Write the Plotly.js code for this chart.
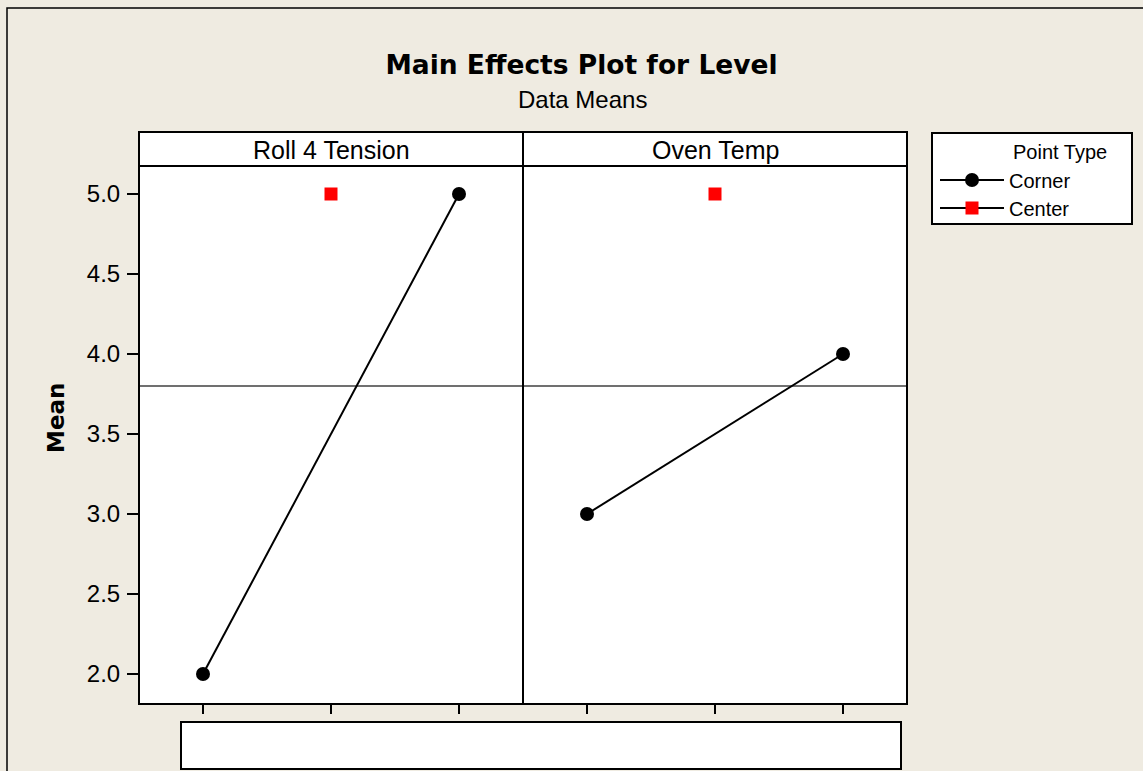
<!DOCTYPE html>
<html>
<head>
<meta charset="utf-8">
<script src="https://cdn.plot.ly/plotly-3.0.1.min.js"></script>
<style>
  html, body { margin: 0; padding: 0; background: #EFEBE1; }
  #chart { width: 1143px; height: 771px; }
</style>
</head>
<body>
<div id="chart"></div>
<script>
// ---- data ----
const factors = ['Roll 4 Tension', 'Oven Temp'];
const levels = [1, 2, 3];           // low, center, high (unlabelled)
const cornerLevels = [1, 3];
const centerLevels = [2];
const rollCorner = [2.0, 5.0];
const ovenCorner = [3.0, 4.0];
const rollCenter = [5.0];
const ovenCenter = [5.0];
const grandMean = 3.8;
const yTicks = [2.0, 2.5, 3.0, 3.5, 4.0, 4.5, 5.0];
const seriesNames = ['Corner', 'Center'];
const legendTitle = 'Point Type';
const titleText = 'Main Effects Plot for Level';
const subtitleText = 'Data Means';
const yTitle = 'Mean';

// ---- style ----
const REG = 'Liberation Sans, Arial, sans-serif';
const BOLD = 'DejaVu Sans, Verdana, sans-serif';
const BG = '#EFEBE1';

const cornerStyle = {
  mode: 'lines+markers',
  line: { color: '#000000', width: 2 },
  marker: { symbol: 'circle', size: 14, color: '#000000' }
};
const centerStyle = {
  mode: 'lines+markers',
  line: { color: '#000000', width: 2 },
  marker: { symbol: 'square', size: 13, color: '#FF0000' }
};

const traces = [
  Object.assign({ x: cornerLevels, y: rollCorner, xaxis: 'x', yaxis: 'y',
    name: seriesNames[0], legend: 'legend', showlegend: true, hoverinfo: 'x+y' }, cornerStyle),
  Object.assign({ x: cornerLevels, y: ovenCorner, xaxis: 'x2', yaxis: 'y',
    name: seriesNames[0], showlegend: false, hoverinfo: 'x+y' }, cornerStyle),
  Object.assign({ x: centerLevels, y: rollCenter, xaxis: 'x', yaxis: 'y',
    name: seriesNames[1], legend: 'legend2', showlegend: true, hoverinfo: 'x+y' }, centerStyle),
  Object.assign({ x: centerLevels, y: ovenCenter, xaxis: 'x2', yaxis: 'y',
    name: seriesNames[1], showlegend: false, hoverinfo: 'x+y' }, centerStyle)
];

// plot area: left 139, right 907, top 166, bottom 704 (px)
const W = 1143, H = 771;
const L = 139, R = 907, T = 166, B = 704;
const pw = R - L, ph = B - T;
const px = v => (v - L) / pw;       // pixel -> paper x
const py = v => (B - v) / ph;       // pixel -> paper y

const xAxisCommon = {
  range: [0.5, 3.5],
  tickvals: levels,
  showticklabels: false,
  ticks: 'outside', ticklen: 9, tickwidth: 2, tickcolor: '#000000',
  showgrid: false, zeroline: false, showline: false, fixedrange: true
};

const shapes = [
  // outer frame
  { type: 'rect', xref: 'paper', yref: 'paper', x0: px(7), x1: px(1300), y0: py(8), y1: py(900),
    line: { color: '#000000', width: 1.5 }, fillcolor: 'rgba(0,0,0,0)', layer: 'below' },
  // grand mean reference lines
  { type: 'line', xref: 'x', yref: 'y', x0: 0.5, x1: 3.5, y0: grandMean, y1: grandMean,
    line: { color: '#707070', width: 2 }, layer: 'below' },
  { type: 'line', xref: 'x2', yref: 'y', x0: 0.5, x1: 3.5, y0: grandMean, y1: grandMean,
    line: { color: '#707070', width: 2 }, layer: 'below' },
  // panel frames
  { type: 'rect', xref: 'paper', yref: 'paper', x0: 0, x1: 0.5, y0: 0, y1: 1,
    line: { color: '#000000', width: 2 }, fillcolor: 'rgba(0,0,0,0)', layer: 'above' },
  { type: 'rect', xref: 'paper', yref: 'paper', x0: 0.5, x1: 1, y0: 0, y1: 1,
    line: { color: '#000000', width: 2 }, fillcolor: 'rgba(0,0,0,0)', layer: 'above' },
  // panel header strips
  { type: 'rect', xref: 'paper', yref: 'paper', x0: 0, x1: 0.5, y0: 1, y1: py(132),
    line: { color: '#000000', width: 2 }, fillcolor: '#FFFFFF', layer: 'above' },
  { type: 'rect', xref: 'paper', yref: 'paper', x0: 0.5, x1: 1, y0: 1, y1: py(132),
    line: { color: '#000000', width: 2 }, fillcolor: '#FFFFFF', layer: 'above' },
  // empty box under the x axis
  { type: 'rect', xref: 'paper', yref: 'paper', x0: px(181), x1: px(901), y0: py(769), y1: py(722),
    line: { color: '#000000', width: 2 }, fillcolor: '#FFFFFF', layer: 'above' },
  // legend box
  { type: 'rect', xref: 'paper', yref: 'paper', x0: px(932), x1: px(1132), y0: py(224), y1: py(133),
    line: { color: '#000000', width: 2 }, fillcolor: '#FFFFFF', layer: 'below' }
];

const annotations = [
  { text: subtitleText, xref: 'paper', yref: 'paper', x: px(582), y: py(99),
    xanchor: 'center', yanchor: 'middle', showarrow: false,
    font: { family: REG, size: 24, color: '#000000' } },
  { text: factors[0], xref: 'paper', yref: 'paper', x: 0.25, y: py(150),
    xanchor: 'center', yanchor: 'middle', showarrow: false,
    font: { family: REG, size: 25, color: '#000000' } },
  { text: factors[1], xref: 'paper', yref: 'paper', x: 0.75, y: py(150),
    xanchor: 'center', yanchor: 'middle', showarrow: false,
    font: { family: REG, size: 25, color: '#000000' } },
  { text: '<b>' + yTitle + '</b>', xref: 'paper', yref: 'paper', x: px(56), y: py(418),
    xanchor: 'center', yanchor: 'middle', showarrow: false, textangle: -90,
    font: { family: BOLD, size: 23, color: '#000000' } },
  { text: legendTitle, xref: 'paper', yref: 'paper', x: px(1011), y: py(152),
    xanchor: 'left', yanchor: 'middle', showarrow: false,
    font: { family: REG, size: 20, color: '#000000' } }
];

const legendCommon = {
  xref: 'paper', yref: 'paper', xanchor: 'left', yanchor: 'middle',
  bgcolor: 'rgba(0,0,0,0)', borderwidth: 0, itemwidth: 64,
  font: { family: REG, size: 20, color: '#000000' },
  itemclick: false, itemdoubleclick: false
};

const layout = {
  width: W, height: H,
  paper_bgcolor: BG,
  plot_bgcolor: '#FFFFFF',
  margin: { l: L, r: W - R, t: T, b: H - B, pad: 0 },
  title: {
    text: '<b>' + titleText + '</b>',
    xref: 'paper', x: px(581.5), xanchor: 'center',
    yref: 'container', y: 1 - 65 / H, yanchor: 'middle',
    font: { family: BOLD, size: 26.5, color: '#000000' }
  },
  xaxis: Object.assign({ domain: [0, 0.5], anchor: 'y' }, xAxisCommon),
  xaxis2: Object.assign({ domain: [0.5, 1], anchor: 'y' }, xAxisCommon),
  yaxis: {
    anchor: 'x',
    range: [1.8125, 5.175],
    tickvals: yTicks,
    ticktext: yTicks.map(v => v.toFixed(1)),
    ticks: 'outside', ticklen: 11, tickwidth: 2, tickcolor: '#000000',
    ticklabelstandoff: 2,
    tickfont: { family: REG, size: 24, color: '#000000' },
    showgrid: false, zeroline: false, showline: false, fixedrange: true
  },
  showlegend: true,
  legend: Object.assign({ x: px(935), y: py(180) }, legendCommon),
  legend2: Object.assign({ x: px(935), y: py(208) }, legendCommon),
  shapes: shapes,
  annotations: annotations
};

Plotly.newPlot('chart', traces, layout, { displayModeBar: false, staticPlot: true });
</script>
</body>
</html>
